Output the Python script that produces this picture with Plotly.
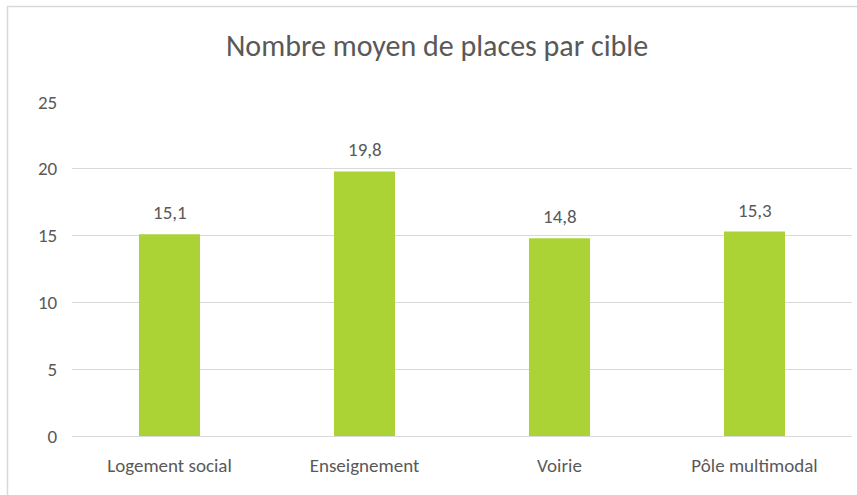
import plotly.graph_objects as go

categories = ["Logement social", "Enseignement", "Voirie", "Pôle multimodal"]
values = [15.1, 19.8, 14.8, 15.3]
y_ticks = [0, 5, 10, 15, 20, 25]
title_text = "Nombre moyen de places par cible"

FONT = "Carlito, Lato, sans-serif"
TXT = "#595959"
BAR = "#acd336"
GRID = "#d9d9d9"

fig = go.Figure(go.Bar(
    x=categories, y=values, marker=dict(color=BAR, line=dict(width=0)),
    hoverinfo="x+y",
))

for c, v in zip(categories, values):
    fig.add_annotation(x=c, y=v, text=f"{v:.1f}".replace(".", ","),
                       showarrow=False, yanchor="bottom", yshift=8,
                       font=dict(family=FONT, size=19, color=TXT))

fig.update_layout(
    width=857, height=495,
    margin=dict(l=72, r=5, t=102, b=59),
    paper_bgcolor="white", plot_bgcolor="white",
    bargap=0.687, showlegend=False,
    font=dict(family=FONT, color=TXT, size=19),
    title=dict(text=title_text, x=0.51, xref="container", xanchor="center",
               y=1 - 45 / 495, yref="container", yanchor="middle",
               font=dict(family=FONT, size=30, color=TXT)),
    xaxis=dict(showgrid=False, showline=True, linecolor=GRID, linewidth=1,
               ticks="outside", ticklen=12, tickcolor="rgba(0,0,0,0)",
               tickfont=dict(family=FONT, size=19, color=TXT)),
    yaxis=dict(range=[0, 25], tickvals=y_ticks, showgrid=True, gridcolor=GRID,
               gridwidth=1, zeroline=False, showline=False,
               ticks="outside", ticklen=10, tickcolor="rgba(0,0,0,0)",
               tickfont=dict(family=FONT, size=19, color=TXT)),
    shapes=[dict(type="rect", xref="paper", yref="paper",
                 x0=(7.5 - 72) / 780, x1=1.2, y0=-0.5, y1=1 + (102 - 6.5) / 334,
                 line=dict(color=GRID, width=1.5), fillcolor="rgba(0,0,0,0)",
                 layer="below")],
)

fig.write_html("out.html", config={"displayModeBar": False},
               post_script="document.body.style.margin='0';")
